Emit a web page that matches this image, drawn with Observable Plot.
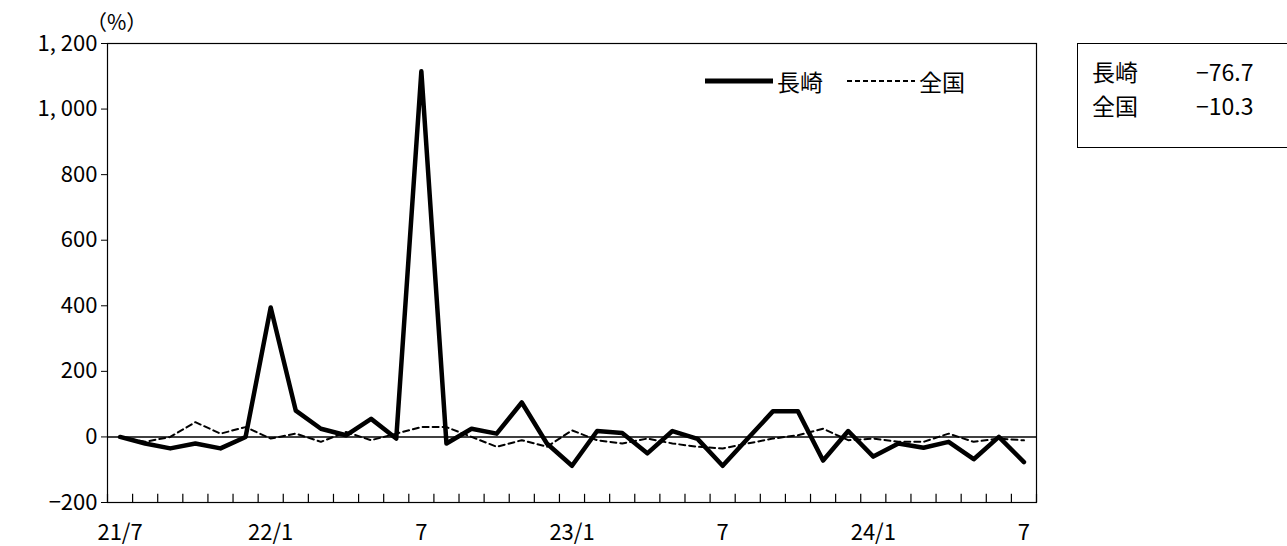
<!DOCTYPE html>
<html><head><meta charset="utf-8">
<script src="https://cdn.jsdelivr.net/npm/d3@7"></script>
<script src="https://cdn.jsdelivr.net/npm/@observablehq/plot@0.6"></script>
<style>
body{margin:0;background:#fff;font-family:"Noto Sans CJK JP",sans-serif;}
#wrap{position:relative;width:1287px;height:546px;}
.abs{position:absolute;font-size:22px;color:#000;}
</style></head><body>
<div id="wrap"></div>
<script>
const nagasaki = [0,-20,-35,-20,-35,0,395,80,25,5,55,-5,1115,-20,25,10,105,-20,-88,18,12,-50,18,-6,-88,-5,78,78,-72,18,-60,-20,-33,-15,-68,0,-76.7];
const zenkoku = [0,-15,0,45,10,30,-5,10,-15,15,-10,10,30,30,0,-30,-10,-30,20,-10,-20,-5,-20,-30,-35,-20,-5,5,25,-10,-5,-15,-15,10,-15,-5,-10.3];
const xLabels = {0:"21/7",6:"22/1",12:"7",18:"23/1",24:"7",30:"24/1",36:"7"};
const yTicks = [-200,0,200,400,600,800,1000,1200];
const yLabels = {"-200":"−200","0":"0","200":"200","400":"400","600":"600","800":"800","1000":"1, 000","1200":"1, 200"};

const rows = [];
nagasaki.forEach((v,i)=>rows.push({i,v,s:"長崎"}));
zenkoku.forEach((v,i)=>rows.push({i,v,s:"全国"}));
const bounds = d3.range(-0.5,37,1);

const chart = Plot.plot({
  width:1287, height:546,
  marginLeft:107, marginRight:251, marginTop:43, marginBottom:44,
  style:{fontFamily:"Noto Sans CJK JP", fontSize:"22px", color:"#000", background:"#fff"},
  x:{domain:[-0.5,36.5], axis:null},
  y:{domain:[-200,1200], axis:null},
  marks:[
    Plot.frame({stroke:"#000", strokeWidth:1.2}),
    Plot.ruleY([0],{stroke:"#000", strokeWidth:1.5}),
    Plot.ruleX(bounds,{x:d=>d, y1:-200, y2:-175, stroke:"#000", strokeWidth:1.2}),
    Plot.axisY(yTicks,{tickSize:6, tickFormat:d=>yLabels[d], fontSize:22, tickPadding:4, label:null}),
    Plot.text(Object.keys(xLabels).map(Number),{x:d=>d, y:-200, text:d=>xLabels[d], dy:30, fontSize:22}),
    Plot.line(rows.filter(r=>r.s==="全国"),{x:"i", y:"v", stroke:"#000", strokeWidth:2, strokeDasharray:"6,4"}),
    Plot.line(rows.filter(r=>r.s==="長崎"),{x:"i", y:"v", stroke:"#000", strokeWidth:4.5}),
  ]
});
const wrap = document.getElementById("wrap");
wrap.appendChild(chart);
wrap.insertAdjacentHTML("beforeend", `
<div class="abs" style="left:86px;top:6px;font-size:21px">（%）</div>
<div class="abs" style="left:705px;top:64px;display:flex;align-items:center;gap:4px;font-size:23px">
 <svg width="68" height="10"><line x1="0" y1="5" x2="68" y2="5" stroke="#000" stroke-width="5"/></svg><span>長崎</span>
 <svg width="68" height="10" style="margin-left:20px"><line x1="0" y1="5" x2="68" y2="5" stroke="#000" stroke-width="2" stroke-dasharray="5,3"/></svg><span>全国</span>
</div>
<div class="abs" style="left:1077px;top:43px;width:230px;height:105px;border:1.5px solid #000;box-sizing:border-box;padding:10px 0 0 14px;font-size:23px">
 <div style="position:relative;height:34px;line-height:34px">長崎<span style="position:absolute;left:104px">−76.7</span></div>
 <div style="position:relative;height:34px;line-height:34px">全国<span style="position:absolute;left:104px">−10.3</span></div>
</div>`);
</script></body></html>
